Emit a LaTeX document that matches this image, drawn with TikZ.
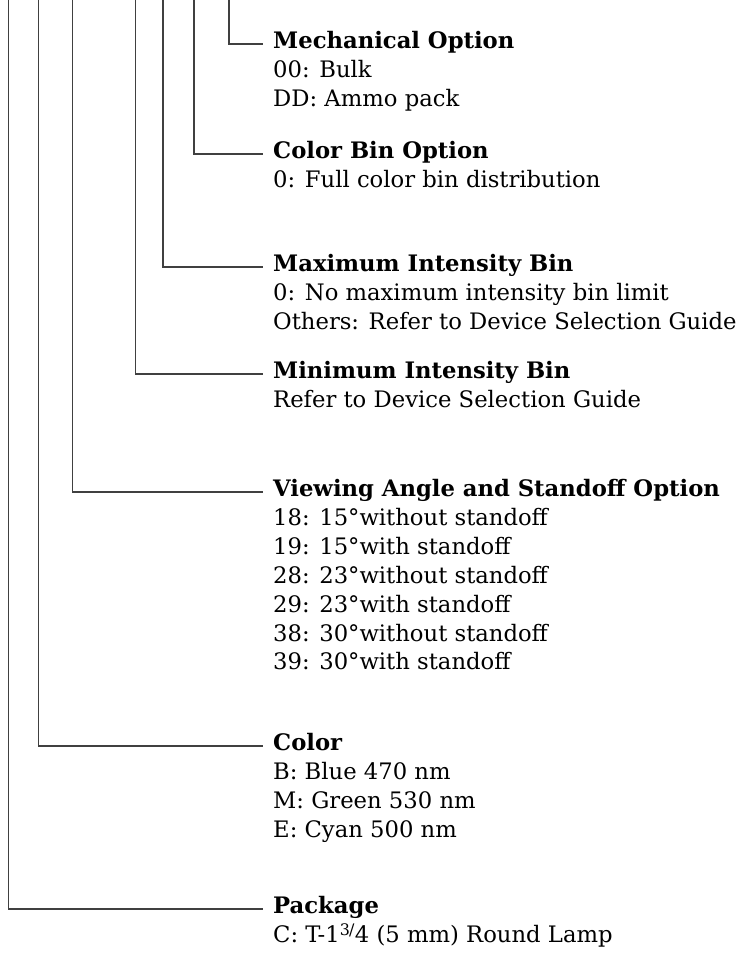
\documentclass[tikz,border=0pt]{standalone}
\usepackage{fontspec}
\setmainfont{DejaVu Serif}
\usepackage{tikz}
\usetikzlibrary{positioning}
\newcommand\codefont{\fontsize{22.7}{28.8}\selectfont}

\begin{document}
\begin{tikzpicture}[x=1pt,y=-1pt,
  title/.style={anchor=west,inner sep=0pt,font=\codefont\bfseries},
  info/.style={anchor=north west,inner sep=0pt,align=left,font=\codefont},
  lead/.style={line width=1.1pt,black!75}]
  \useasboundingbox (0,0) rectangle (745,953);

  % option titles
  \node[title] (mech) at (273,43)  {\strut Mechanical Option};
  \node[title] (bin)  at (273,153) {\strut Color Bin Option};
  \node[title] (max)  at (273,266) {\strut Maximum Intensity Bin};
  \node[title] (min)  at (273,373) {\strut Minimum Intensity Bin};
  \node[title] (view) at (273,491) {\strut Viewing Angle and Standoff Option};
  \node[title] (col)  at (273,745) {\strut Color};
  \node[title] (pack) at (273,908) {\strut Package};

  % option values
  \node[info] (mechtxt) at (mech.south west) {\strut 00: Bulk\\DD: Ammo pack};
  \node[info] (bintxt)  at (bin.south west)  {\strut 0: Full color bin distribution};
  \node[info] (maxtxt)  at (max.south west)  {\strut 0: No maximum intensity bin limit\\Others: Refer to Device Selection Guide};
  \node[info] (mintxt)  at (min.south west)  {\strut Refer to Device Selection Guide};
  \node[info] (viewtxt) at (view.south west) {\strut 18: 15°without standoff\\19: 15°with standoff\\
    28: 23°without standoff\\29: 23°with standoff\\38: 30°without standoff\\39: 30°with standoff};
  \node[info] (coltxt)  at (col.south west)  {\strut B: Blue 470 nm\\M: Green 530 nm\\E: Cyan 500 nm};
  \node[info] (packtxt) at (pack.south west) {\strut C: T-1\textsuperscript{3\kern-.05em/}4 (5 mm) Round Lamp};

  % leads from the part number
  \coordinate (mechtop) at (229,0);
  \coordinate (bintop)  at (194,0);
  \coordinate (maxtop)  at (163,0);
  \coordinate (mintop)  at (135.5,0);
  \coordinate (viewtop) at (72.5,0);
  \coordinate (coltop)  at (38.5,0);
  \coordinate (packtop) at (8.5,0);
  \foreach \n in {mech,bin,max,min,view,col,pack}
    \draw[lead] (\n top) |- ([xshift=-10pt,yshift=-1pt]\n.west);
\end{tikzpicture}
\end{document}
